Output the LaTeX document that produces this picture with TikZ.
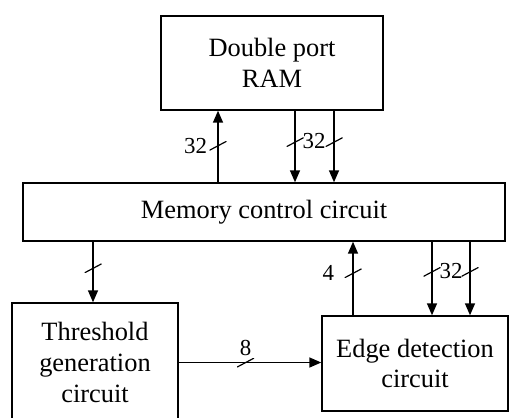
\documentclass[tikz,border=0pt]{standalone}
\usepackage{fontspec}
\setmainfont{Liberation Serif}
\usetikzlibrary{arrows.meta,positioning}
\tikzset{
  >={Triangle[length=12bp,width=10bp]},
  block/.style={draw, line width=1.4bp, align=center, inner sep=0pt, font=\fontsize{26.5}{31}\selectfont},
  bus/.style={minimum width=17bp, minimum height=9bp, inner sep=0pt,
    path picture={\draw[-, line width=1.2bp] (path picture bounding box.south west) -- (path picture bounding box.north east);}},
  lbl/.style={inner sep=1bp, font=\fontsize{23}{25}\selectfont},
  sig/.style={->, line width=1.5bp},
}
\begin{document}
\begin{tikzpicture}[x=1bp, y=1bp]
  \useasboundingbox (0,0) rectangle (509,417);

  \node[block, minimum width=222bp, minimum height=94bp] (ram) at (272,354) {Double port\\RAM};
  \node[block, minimum width=482bp, minimum height=58bp] (mem) at (264,205) {Memory control circuit};
  \node[block, minimum width=166bp, minimum height=119bp] (thr) at (95,54.5) {Threshold\\generation\\circuit};
  \node[block, minimum width=186bp, minimum height=95bp] (edge) at (415,53.5) {Edge detection\\circuit};

  % bus positions
  \coordinate (c1) at (218,0);
  \coordinate (c2) at (295,0);
  \coordinate (c3) at (334,0);
  \coordinate (c4) at (93,0);
  \coordinate (c5) at (353,0);
  \coordinate (c6) at (432,0);
  \coordinate (c7) at (470,0);

  % RAM <-> memory control
  \draw[sig] (mem.north -| c1) -- node[bus, pos=.51, label={[lbl, label distance=0bp]left:32}] {} (ram.south -| c1);
  \draw[sig] (ram.south -| c2) -- node[bus, pos=.44] {} (mem.north -| c2);
  \draw[sig] (ram.south -| c3) -- node[bus, pos=.44] {} (mem.north -| c3);
  \node[lbl] (w1) at (314,276) {32};

  % memory control -> threshold
  \draw[sig] (mem.south -| c4) -- node[bus, pos=.44] {} (thr.north -| c4);

  % edge detection <-> memory control
  \draw[sig] (edge.north -| c5) -- node[bus, pos=.57, label={[lbl, label distance=8bp]left:4}] {} (mem.south -| c5);
  \draw[sig] (mem.south -| c6) -- node[bus, pos=.41] {} (edge.north -| c6);
  \draw[sig] (mem.south -| c7) -- node[bus, pos=.41] {} (edge.north -| c7);
  \node[lbl] (w2) at (451,146) {32};

  % threshold -> edge detection
  \draw[sig] (thr.east) -- node[bus, pos=.47, label={[lbl, label distance=0bp]above:8}] {} (thr.east -| edge.west);
\end{tikzpicture}
\end{document}
